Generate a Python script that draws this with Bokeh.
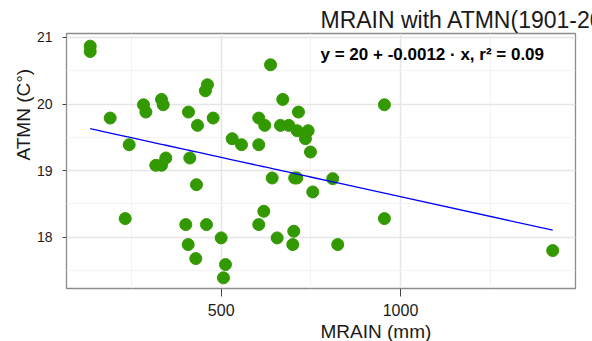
import numpy as np
from bokeh.plotting import figure
from bokeh.models import FixedTicker, Range1d, Label, ColumnDataSource, Title
from bokeh.embed import file_html
from bokeh.resources import INLINE

# Data (MRAIN in mm, ATMN in deg C)
mrain = [134.8, 134.8, 190.5, 283.4, 290.0, 333.6, 338.3, 408.8, 434.0, 456.0,
         461.7, 243.5, 317.7, 333.6, 345.6, 412.5, 431.1, 232.4, 401.3, 408.0,
         429.2, 637.6, 671.7, 715.5, 477.7, 604.8, 621.5, 665.3, 688.5, 711.9,
         742.5, 735.0, 530.7, 556.6, 604.8, 749.0, 642.2, 705.0, 711.0, 755.4,
         618.8, 604.8, 459.0, 656.1, 702.4, 699.6, 500.0, 512.0, 506.4, 955.2,
         811.0, 955.2, 825.0, 1424.5]
atmn = [20.87, 20.79, 19.79, 19.99, 19.88, 20.07, 19.99, 19.88, 19.68, 20.20,
        20.29, 19.39, 19.08, 19.08, 19.19, 19.19, 18.79, 18.28, 18.19, 17.89,
        17.68, 20.59, 20.07, 19.88, 19.79, 19.79, 19.68, 19.68, 19.68, 19.60,
        19.60, 19.48, 19.48, 19.39, 19.39, 19.28, 18.89, 18.89, 18.89, 18.68,
        18.39, 18.19, 18.19, 17.99, 18.09, 17.89, 17.99, 17.59, 17.39, 19.99,
        18.88, 18.28, 17.89, 17.80]

x_ticks = [500, 1000]
x_minor = [250, 750, 1250]
y_ticks = [18, 19, 20, 21]
y_minor = [17.5, 18.5, 19.5, 20.5]

title_text = "MRAIN with ATMN(1901-2000)"
eq_text = "y = 20 + -0.0012 \u00b7 x,  r\u00b2 = 0.09"
x_label_text = "MRAIN (mm)"
y_label_text = "ATMN (C\u00b0)"

# linear fit
slope, intercept = np.polyfit(mrain, atmn, 1)
xs = np.sort(np.array(mrain))
ys = intercept + slope * xs

p = figure(width=592, height=341, output_backend="svg", toolbar_location=None,
           x_range=Range1d(68.7, 1488), y_range=Range1d(17.23, 21.06),
           min_border_left=66, min_border_right=17, min_border_top=33,
           min_border_bottom=53)

p.title.text = title_text
p.title.align = "left"
p.title.offset = 254
p.title.text_font = "Liberation Sans"
p.title.text_font_size = "23px"
p.title.text_font_style = "normal"
p.title.text_color = "#1a1a1a"
p.title.standoff = 2

p.background_fill_color = "white"
p.border_fill_color = "white"
p.outline_line_color = "#8c8c8c"
p.outline_line_width = 1.3

p.xaxis.ticker = FixedTicker(ticks=x_ticks, minor_ticks=x_minor)
p.yaxis.ticker = FixedTicker(ticks=y_ticks, minor_ticks=y_minor)

for g in (p.xgrid, p.ygrid):
    g.grid_line_color = "#e6e6e6"
    g.grid_line_width = 1.5
    g.minor_grid_line_color = "#f3f3f3"
    g.minor_grid_line_width = 1

for ax in (p.xaxis, p.yaxis):
    ax.axis_line_color = None
    ax.minor_tick_line_color = None
    ax.major_tick_line_color = "#444444"
    ax.major_tick_in = 0
    ax.major_label_text_font = "Liberation Sans"
    ax.major_label_text_color = "#1a1a1a"

p.xaxis.major_tick_out = 8
p.xaxis.major_label_standoff = 7
p.xaxis.major_label_text_font_size = "16px"
p.xaxis.major_label_text_align = "left"

p.yaxis.major_tick_out = 4
p.yaxis.major_label_standoff = 10
p.yaxis.major_label_text_font_size = "14px"
p.yaxis.major_label_text_align = "left"

src = ColumnDataSource(dict(x=mrain, y=atmn))
p.scatter("x", "y", source=src, size=12, fill_color="#339900", line_color="#339900")
p.line(xs, ys, line_color="#0000ff", line_width=1.3)

eq = Label(x=777, y=20.75, text=eq_text, text_font="Liberation Sans",
           text_font_size="17px", text_font_style="bold", text_color="black",
           text_baseline="middle", text_align="left")
p.add_layout(eq)

# axis titles, starting at the panel centre like the reference
xl = Title(text=x_label_text, align="left", offset=254, text_font="Liberation Sans",
           text_font_size="19px", text_font_style="normal", text_color="#1a1a1a",
           standoff=0)
yl = Title(text=y_label_text, align="left", offset=128, text_font="Liberation Sans",
           text_font_size="19px", text_font_style="normal", text_color="#1a1a1a",
           standoff=0)
p.add_layout(xl, "below")
p.add_layout(yl, "left")

open("out.html", "w").write(file_html(p, INLINE))
